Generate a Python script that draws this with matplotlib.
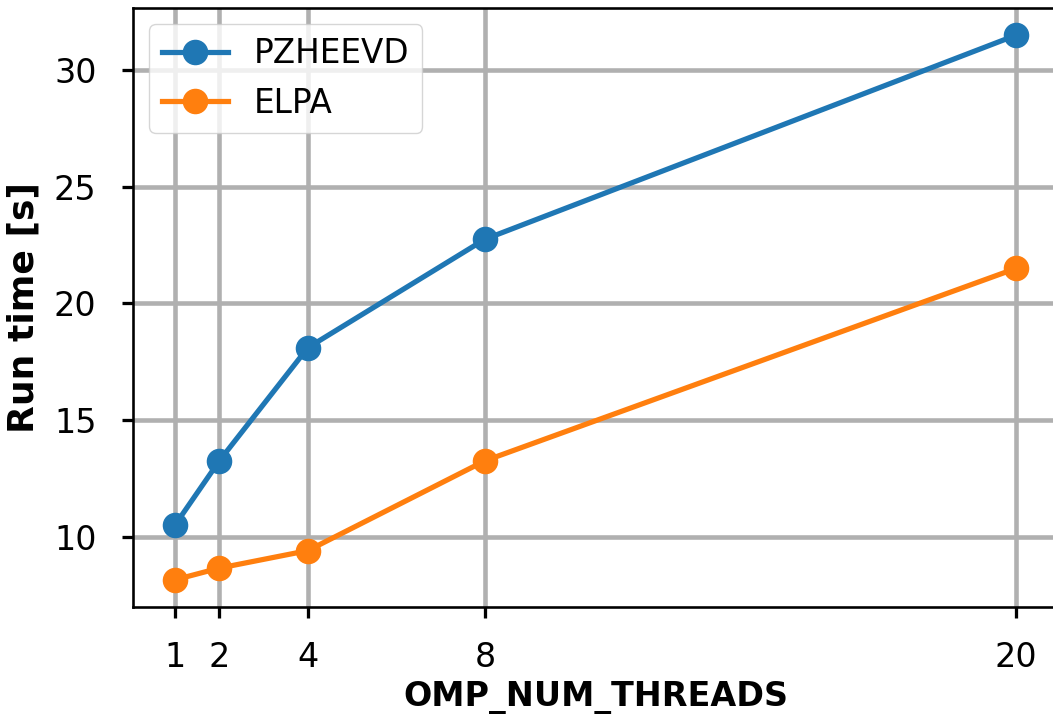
import matplotlib
matplotlib.use("Agg")
import matplotlib.pyplot as plt

threads = [1, 2, 4, 8, 20]
pzheevd = [10.5, 13.25, 18.1, 22.75, 31.5]
elpa = [8.15, 8.65, 9.4, 13.25, 21.5]

# everything scaled up for a small, high-res figure
s = 2.35
plt.rcParams.update({
    'font.size': 24,
    'lines.linewidth': 1.6 * s,
    'lines.markersize': 7.4 * s,
    'axes.linewidth': 0.8 * s,
    'xtick.major.size': 3.5 * s,
    'ytick.major.size': 3.5 * s,
    'xtick.major.width': 1.0 * s,
    'ytick.major.width': 1.0 * s,
    'xtick.major.pad': 16.5,
    'ytick.major.pad': 18,
    'legend.fontsize': 23.5,
})

fig = plt.figure(figsize=(10.53, 7.16), dpi=100)
ax = fig.add_axes([133 / 1053, 1 - 607 / 716, 925 / 1053, 599 / 716])

ax.plot(threads, pzheevd, marker='o', label='PZHEEVD')
ax.plot(threads, elpa, marker='o', label='ELPA')

ax.set_xticks(threads)
ax.set_xlabel('OMP_NUM_THREADS', fontweight='bold', labelpad=5)
ax.set_ylabel('Run time [s]', fontweight='bold', fontsize=26, labelpad=10)
ax.grid(True, color='#b0b0b0', linewidth=1.4 * s)
ax.set_axisbelow(True)
ax.legend(loc='upper left')

fig.savefig('out.png', dpi=100)
